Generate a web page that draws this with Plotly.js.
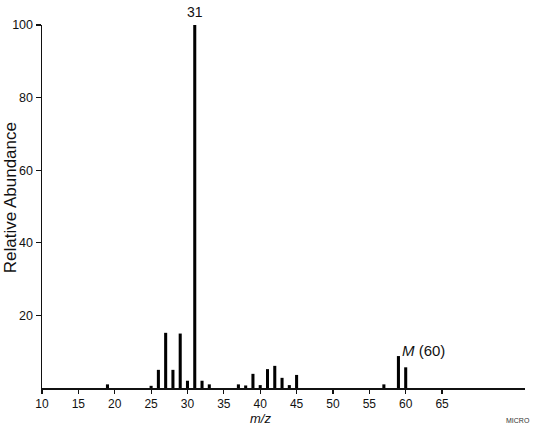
<!DOCTYPE html>
<html>
<head>
<meta charset="utf-8">
<script src="https://cdn.plot.ly/plotly-3.0.1.min.js"></script>
<style>html,body{margin:0;padding:0;background:#fff;}#chart{width:533px;height:427px;}</style>
</head>
<body>
<div id="chart"></div>
<script>
const mz = [19, 25, 26, 27, 28, 29, 30, 31, 32, 33, 37, 38, 39, 40, 41, 42, 43, 44, 45, 57, 59, 60];
const abundance = [1, 0.6, 5, 15.2, 5, 15, 2, 100, 2, 1, 1, 0.7, 3.9, 0.8, 5.2, 6.1, 2.8, 0.8, 3.6, 1, 8.8, 5.7];
const xTicks = [10, 15, 20, 25, 30, 35, 40, 45, 50, 55, 60, 65];
const yTicks = [20, 40, 60, 80, 100];
const basePeak = {mz: 31, label: "31"};
const molecularIon = {mz: 60, label: "<i>M</i> (60)"};
const xTitle = "<i>m/z</i>";
const yTitle = "Relative Abundance";

const font = "Liberation Sans, Arial, Helvetica, sans-serif";
const trace = {
  type: "bar",
  x: mz,
  y: abundance,
  width: 0.42,
  marker: {color: "#000", line: {width: 0}},
  hoverinfo: "x+y"
};
const layout = {
  width: 533, height: 427,
  margin: {l: 42, r: 8, t: 25, b: 39},
  paper_bgcolor: "#fff", plot_bgcolor: "#fff",
  showlegend: false,
  font: {family: font, color: "#111", size: 12},
  xaxis: {
    range: [10, 76.4],
    tickvals: xTicks,
    ticktext: xTicks.map(String),
    ticks: "outside", ticklen: 4, tickwidth: 1.2, tickcolor: "#111",
    showline: true, linecolor: "#111", linewidth: 1.5,
    showgrid: false, zeroline: false,
    tickfont: {size: 12, family: font, color: "#111"},
    automargin: false
  },
  yaxis: {
    range: [0, 100],
    tickvals: yTicks,
    ticktext: yTicks.map(String),
    ticks: "outside", ticklen: 5, tickwidth: 1.2, tickcolor: "#111",
    showline: true, linecolor: "#111", linewidth: 1.5,
    showgrid: false, zeroline: false,
    tickfont: {size: 12.5, family: font, color: "#111"},
    automargin: false
  },
  annotations: [
    {x: basePeak.mz, y: 100, text: basePeak.label, showarrow: false, yanchor: "bottom", yshift: 3, font: {size: 14, family: font, color: "#111"}},
    {x: molecularIon.mz, y: abundance[mz.indexOf(molecularIon.mz)], text: molecularIon.label, showarrow: false, xanchor: "left", yanchor: "bottom", xshift: -6, yshift: 6, font: {size: 15, family: font, color: "#111"}},
    {x: 40, xref: "x", yref: "paper", y: -0.1074, text: xTitle, showarrow: false, xanchor: "center", yanchor: "bottom", borderpad: 0, font: {size: 13, family: font, color: "#111"}},
    {xref: "paper", yref: "paper", x: -0.066, y: 0.523, text: yTitle, textangle: -90, showarrow: false, xanchor: "center", yanchor: "middle", font: {size: 17, family: font, color: "#111"}},
    {xref: "paper", yref: "paper", x: 1.014, y: 0, yshift: -38, text: "MICRO", showarrow: false, xanchor: "right", yanchor: "bottom", font: {size: 7, family: font, color: "#333"}}
  ]
};
Plotly.newPlot("chart", [trace], layout, {displayModeBar: false, staticPlot: true});
</script>
</body>
</html>
